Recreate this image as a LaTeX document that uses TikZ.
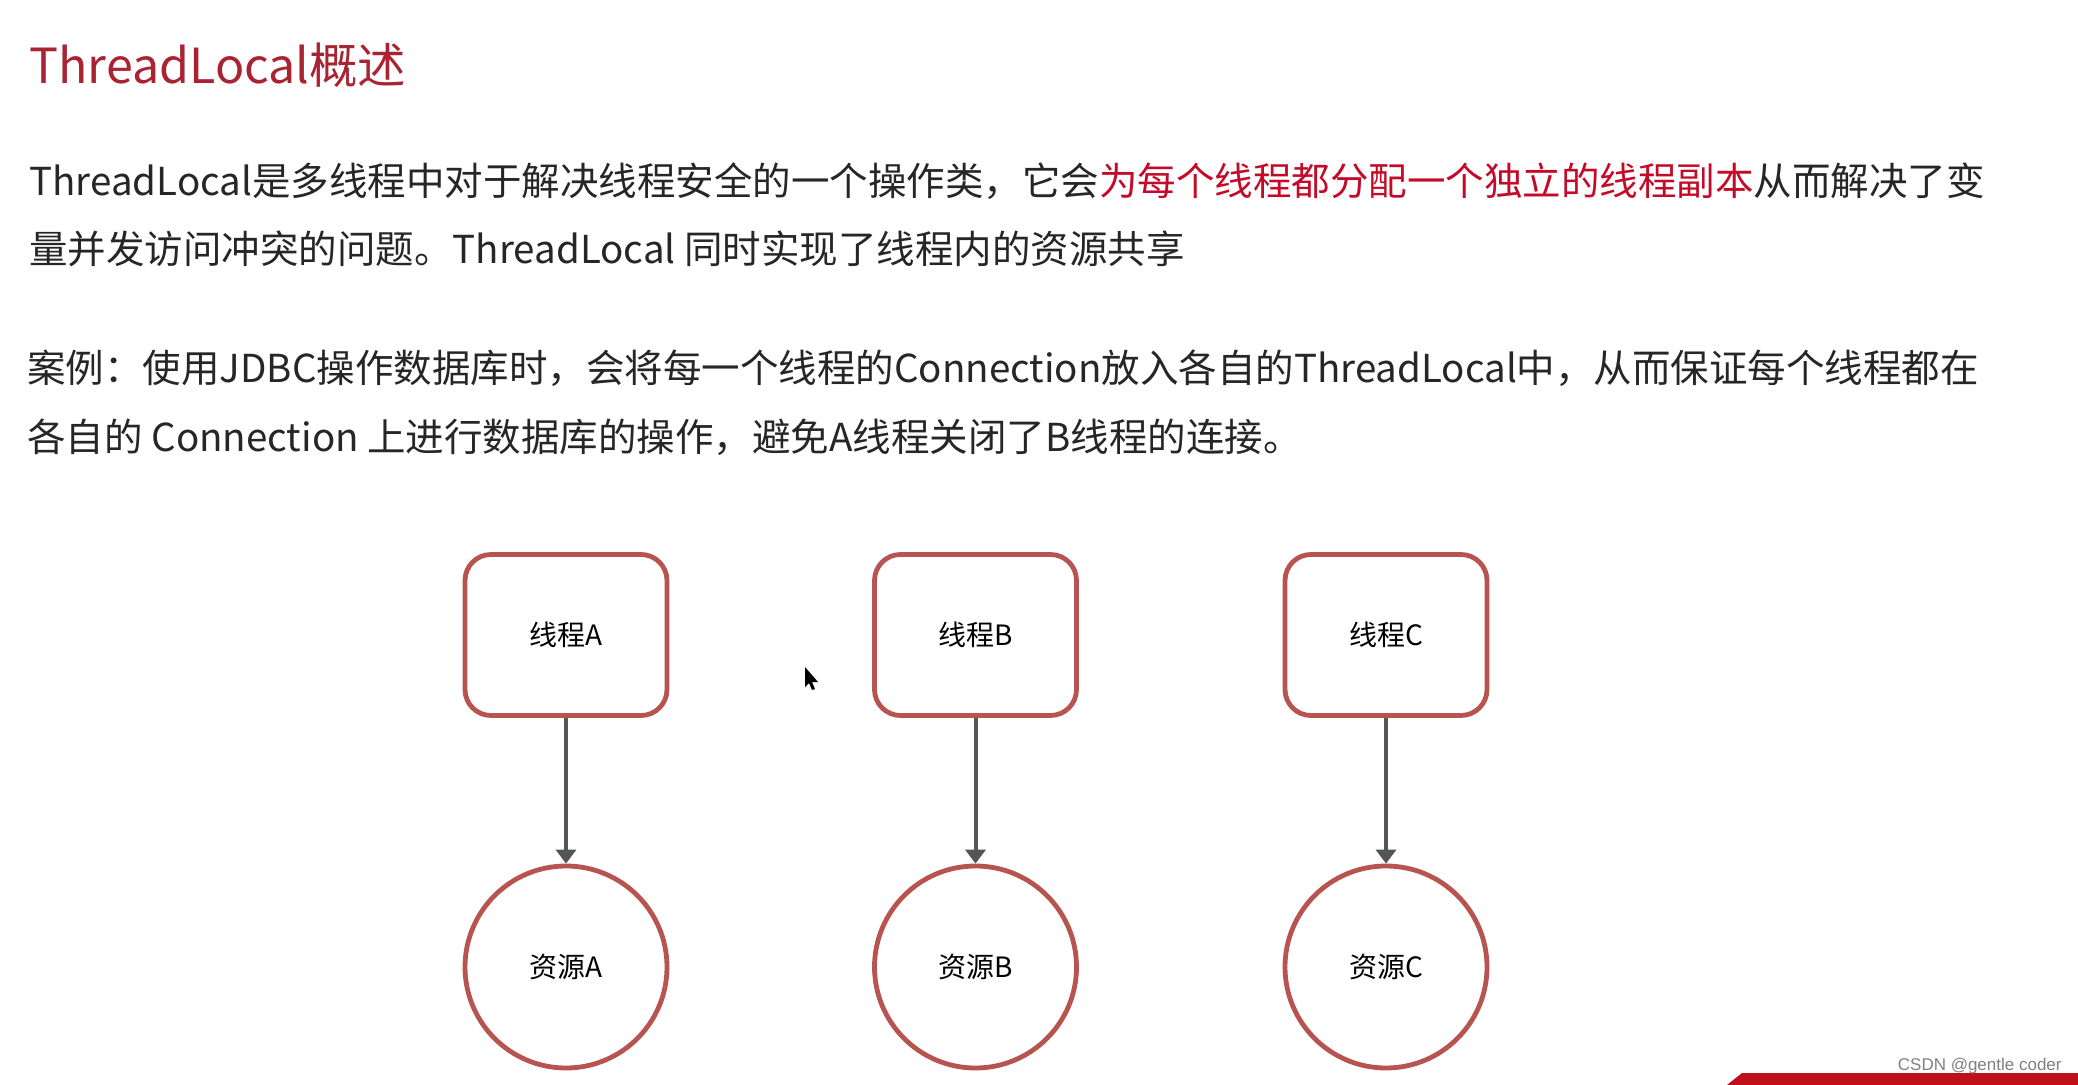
\documentclass[tikz,border=0pt]{standalone}
\usepackage{fontspec}
\setmainfont{Noto Sans CJK SC}
\newfontfamily\wmfont{Liberation Sans}
\usetikzlibrary{arrows.meta}
\definecolor{txt}{HTML}{262626}
\definecolor{titlered}{RGB}{170,35,50}
\definecolor{hired}{RGB}{196,10,40}
\definecolor{nodered}{HTML}{B85450}
\definecolor{arrowgray}{HTML}{555555}
\definecolor{bannerred}{RGB}{190,16,26}
\begin{document}
\begin{tikzpicture}[x=0.5pt,y=-0.5pt,
  bodytext/.style={anchor=base west,inner sep=0pt,text=txt,font=\fontsize{19.25}{23}\selectfont},
  titletext/.style={anchor=base west,inner sep=0pt,text=titlered,font=\fontsize{24.2}{29}\selectfont},
  thread/.style={draw=nodered,line width=2.4pt,rounded corners=13pt,minimum width=101pt,minimum height=80.5pt,fill=white,text=black,font=\fontsize{14}{16}\selectfont},
  resource/.style={draw=nodered,line width=2.4pt,circle,minimum size=101pt,fill=white,text=black,font=\fontsize{14}{16}\selectfont},
  link/.style={draw=arrowgray,line width=2pt,-{Triangle[length=7pt,width=10pt]}}]
\useasboundingbox (0,0) rectangle (2078,1085);
\fill[white] (0,0) rectangle (2078,1085);

\node[titletext] (title) at (29,84) {ThreadLocal概述};
\node[bodytext] (l1) at (29,196) {ThreadLocal是多线程中对于解决线程安全的一个操作类，它会\textcolor{hired}{为每个线程都分配一个独立的线程副本}从而解决了变};
\node[bodytext] (l2) at (29,264) {量并发访问冲突的问题。ThreadLocal 同时实现了线程内的资源共享};
\node[bodytext] (l3) at (27,383) {案例：使用JDBC操作数据库时，会将每一个线程的Connection放入各自的ThreadLocal中，从而保证每个线程都在};
\node[bodytext] (l4) at (27,452) {各自的 Connection 上进行数据库的操作，避免A线程关闭了B线程的连接。};

\node[thread] (ta) at (566,635) {线程A};
\node[thread] (tb) at (975.5,635) {线程B};
\node[thread] (tc) at (1386,635) {线程C};
\node[resource] (ra) at (566,967) {资源A};
\node[resource] (rb) at (975.5,967) {资源B};
\node[resource] (rc) at (1386,967) {资源C};

\draw[link] (ta) -- (ra);
\draw[link] (tb) -- (rb);
\draw[link] (tc) -- (rc);

% mouse cursor
\fill[black] (805,667) -- (805,687) -- (809,683) -- (812,690) -- (815,689) -- (812,682) -- (818,682) -- cycle;

% bottom-right banner and watermark
\fill[bannerred] (1727,1085) -- (1742,1073) -- (2078,1073) -- (2078,1085) -- cycle;
\node[anchor=base east,inner sep=0pt,text=gray,font=\wmfont\fontsize{8.5}{10}\selectfont] (wm) at (2062,1070) {CSDN @gentle coder};
\end{tikzpicture}
\end{document}
